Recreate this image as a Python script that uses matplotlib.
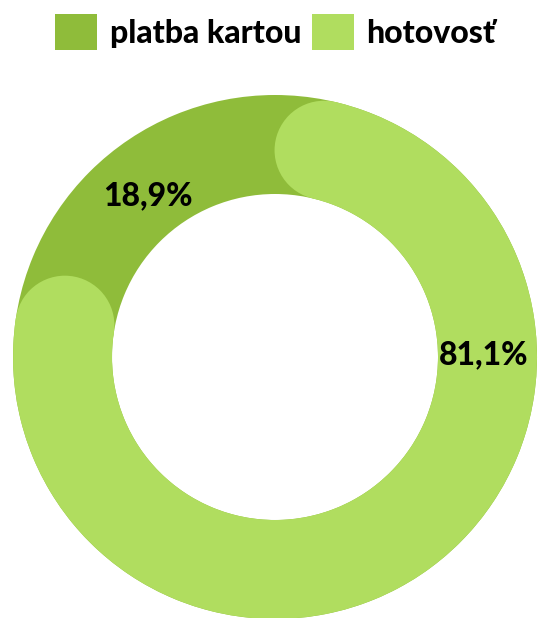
import numpy as np
import matplotlib.pyplot as plt
from matplotlib.patches import Wedge, Circle, Patch

# payment method shares (%)
labels = ["platba kartou", "hotovosť"]
shares = [18.9, 81.1]
colors = ["#8FBC3A", "#B0DD5F"]

W, H = 538, 618
fig = plt.figure(figsize=(W / 100, H / 100), dpi=100)
ax = fig.add_axes([0, 0, 1, 1])
ax.set_xlim(0, W)
ax.set_ylim(0, H)
ax.set_aspect("equal")
ax.axis("off")

cx, cy = 275, H - 357
r_out, ring = 262, 99
r_mid = r_out - ring / 2
cap = ring / 2

# full dark ring underneath, then the cash share on top with rounded ends
ax.add_patch(Wedge((cx, cy), r_out, 0, 360, width=ring, color=colors[0], lw=0))

span = shares[1] / 100 * 360
d = np.degrees(cap / r_mid)
t0, t1 = d, span - d  # clockwise from 12 o'clock
ax.add_patch(Wedge((cx, cy), r_out, 90 - t1, 90 - t0, width=ring,
                   color=colors[1], lw=0))
for t in (t0, t1):
    a = np.radians(90 - t)
    ax.add_patch(Circle((cx + r_mid * np.cos(a), cy + r_mid * np.sin(a)),
                        cap, color=colors[1], lw=0))

# value labels
font = dict(family="Lato", weight="black", fontsize=23, color="black",
            ha="center", va="center")
pos = [(148, H - 196), (484, H - 355)]
for (x, y), v in zip(pos, shares):
    ax.text(x, y, f"{v:.1f}%".replace(".", ","), **font)

handles = [Patch(facecolor=c, edgecolor="none") for c in colors]
fig.legend(handles, labels, loc="upper center", bbox_to_anchor=(0.512, 1.0),
           ncol=2, frameon=False, handlelength=1.3, handleheight=1.35,
           handletextpad=0.4, columnspacing=0.35, borderaxespad=0.05,
           prop=dict(family="Lato", weight="black", size=23))

fig.savefig("out.png", dpi=100)
